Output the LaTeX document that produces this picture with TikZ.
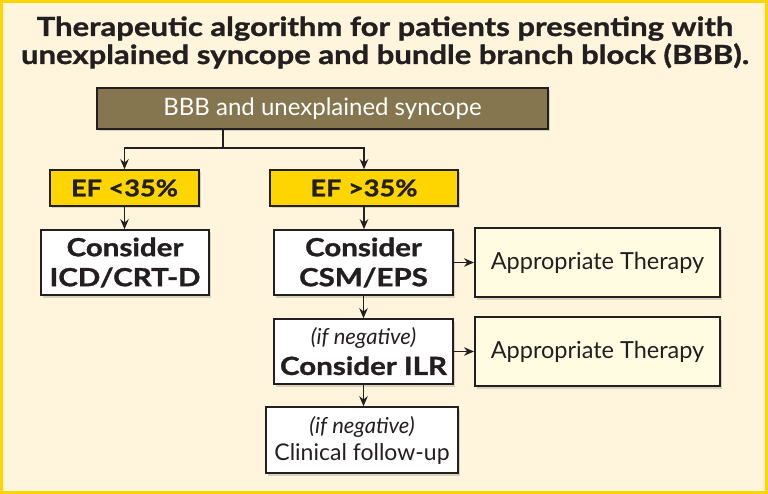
\documentclass[tikz,border=0pt]{standalone}
\usepackage{fontspec}
\setmainfont{Lato}
\newfontfamily\heavyfont{Lato}[BoldFeatures={FakeBold=1.2,FakeStretch=1.18}]
\usetikzlibrary{arrows.meta,shadows}
\definecolor{bgc}{HTML}{FFF5DC}
\definecolor{framec}{HTML}{FFD500}
\definecolor{brownc}{HTML}{86764F}
\definecolor{efc}{HTML}{FFD500}
\definecolor{atc}{HTML}{FFFCE2}
\definecolor{linec}{HTML}{231F20}
\tikzset{
  box/.style={draw=linec, line width=1.6pt, align=center, inner sep=0pt, text=linec,
    drop shadow={shadow xshift=2pt, shadow yshift=-2.5pt, opacity=0.25, fill=black!60}},
  topbox/.style={box, fill=brownc, text=white, minimum width=451pt, minimum height=41pt,
    font=\fontsize{24}{26}\selectfont},
  efbox/.style={box, fill=efc, minimum height=36pt, font=\heavyfont\bfseries\fontsize{23}{24}\selectfont},
  whitebox/.style={box, fill=white, minimum height=65pt, font=\heavyfont\bfseries\fontsize{25}{30}\selectfont},
  atbox/.style={box, fill=atc, line width=2pt, minimum width=245pt, minimum height=69pt,
    font=\fontsize{23.5}{26}\selectfont},
  conn/.style={draw=linec, line width=1.3pt},
  arr/.style={conn, -{Stealth[length=10pt,width=8.5pt]}},
  titletext/.style={font=\heavyfont\bfseries\fontsize{26.3}{29}\selectfont, text=linec, inner sep=0pt, anchor=base}
}
\begin{document}
\begin{tikzpicture}[x=1pt,y=-1pt]
\useasboundingbox (0,0) rectangle (768,494);
\fill[bgc] (0,0) rectangle (768,494);
\draw[framec, line width=3pt] (1.5,1.5) rectangle (766.5,492.5);

\node[titletext] (title1) at (385,36) {Therapeutic algorithm for patients presenting with};
\node[titletext] (title2) at (385,64) {unexplained syncope and bundle branch block (BBB).};

\node[topbox] (top) at (322.5,108.5) {BBB and unexplained syncope};
\node[efbox, minimum width=149pt] (ef1) at (124.5,188) {EF <35\%};
\node[efbox, minimum width=188pt] (ef2) at (364,188) {EF >35\%};
\node[whitebox, minimum width=168pt] (icd) at (125,262.5) {Consider\\ICD/CRT-D};
\node[whitebox, minimum width=179pt] (csm) at (363.5,262.5) {Consider\\CSM/EPS};
\node[atbox] (at1) at (597.5,262.5) {Appropriate Therapy};
\node[whitebox, minimum width=179pt] (ilr) at (363.5,351.5) {{\mdseries\itshape\fontsize{22}{24}\selectfont (if negative)}\\Consider ILR};
\node[atbox] (at2) at (597.5,351.5) {Appropriate Therapy};
\node[box, fill=white, minimum width=192pt, minimum height=66pt, font=\fontsize{23}{27}\selectfont] (fu) at (362,440) {{\itshape\fontsize{22}{24}\selectfont (if negative)}\\Clinical follow-up};

\coordinate (split) at (223,148);
\draw[conn] (split |- top.south) -- (split);
\draw[arr] (split) -| (ef1.north);
\draw[arr] (split) -| (ef2.north);
\draw[arr] (ef1.south) -- (icd.north -| ef1.south);
\draw[arr] (ef2.south) -- (csm.north -| ef2.south);
\draw[arr] (csm.south) -- (ilr.north);
\draw[arr] (ilr.south) -- (ilr.south |- fu.north);
\draw[arr] (csm.east) -- (csm.east -| at1.west);
\draw[arr] (ilr.east) -- (ilr.east -| at2.west);
\end{tikzpicture}
\end{document}
